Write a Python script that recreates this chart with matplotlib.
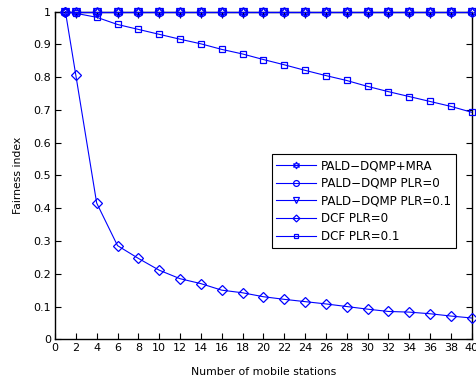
import numpy as np
import matplotlib
matplotlib.use('Agg')
import matplotlib.pyplot as plt

plt.rcParams['font.family'] = ['DejaVu Sans']

stations = [1, 2, 4, 6, 8, 10, 12, 14, 16, 18, 20, 22, 24, 26, 28, 30, 32, 34, 36, 38, 40]

pald_mra = [1.0] * len(stations)
pald_plr0 = [1.0] * len(stations)
pald_plr01 = [1.0] * len(stations)
dcf_plr0 = [1.0, 0.806, 0.416, 0.286, 0.247, 0.211, 0.185, 0.170, 0.150, 0.142, 0.130,
            0.122, 0.115, 0.108, 0.100, 0.092, 0.085, 0.083, 0.078, 0.071, 0.065]
dcf_plr01 = [1.0, 0.995, 0.983, 0.961, 0.946, 0.931, 0.916, 0.902, 0.885, 0.871, 0.854,
             0.838, 0.821, 0.805, 0.790, 0.772, 0.756, 0.741, 0.726, 0.711, 0.693]

labels = ['PALD\u2212DQMP+MRA', 'PALD\u2212DQMP PLR=0', 'PALD\u2212DQMP PLR=0.1',
          'DCF PLR=0', 'DCF PLR=0.1']

fig = plt.figure(figsize=(4.77, 3.88), dpi=100)
ax = fig.add_axes([55 / 477, 1 - 339.3 / 388, (471.7 - 55) / 477, (339.3 - 11.7) / 388])

kw = dict(color='b', lw=0.8, mfc='none', mec='b', mew=0.9, clip_on=False, zorder=3)
ax.plot(stations, pald_mra, marker=(6, 1, 0), ms=7, label=labels[0], **kw)
ax.plot(stations, pald_plr0, marker='o', ms=6, label=labels[1], **kw)
ax.plot(stations, pald_plr01, marker='v', ms=6, label=labels[2], **kw)
ax.plot(stations, dcf_plr0, marker='D', ms=5, label=labels[3], **kw)
ax.plot(stations, dcf_plr01, marker='s', ms=5, label=labels[4], **kw)

ax.set_xlim(0, 40)
ax.set_ylim(0, 1)
ax.set_xticks(np.arange(0, 41, 2))
ax.set_yticks(np.arange(0, 1.01, 0.1))
ax.set_yticklabels(['0', '0.1', '0.2', '0.3', '0.4', '0.5', '0.6', '0.7', '0.8', '0.9', '1'])
ax.tick_params(direction='in', top=True, right=True, length=4, width=0.8,
               labelsize=8, pad=3)
for s in ax.spines.values():
    s.set_linewidth(1.0)

ax.set_xlabel('Number of mobile stations', fontsize=7.8, labelpad=10)
ax.set_ylabel('Fairness index', fontsize=7.8, labelpad=7)

leg = ax.legend(loc='upper left', bbox_to_anchor=(271.7 / 477, 1 - 154.3 / 388),
                bbox_transform=fig.transFigure, borderaxespad=0, fontsize=8.6,
                fancybox=False, edgecolor='k', framealpha=1, markerscale=0.7,
                handlelength=3.3, handletextpad=0.4, labelspacing=0.4,
                borderpad=0.4)
leg.get_frame().set_linewidth(0.8)

fig.savefig('out.png', dpi=100)
